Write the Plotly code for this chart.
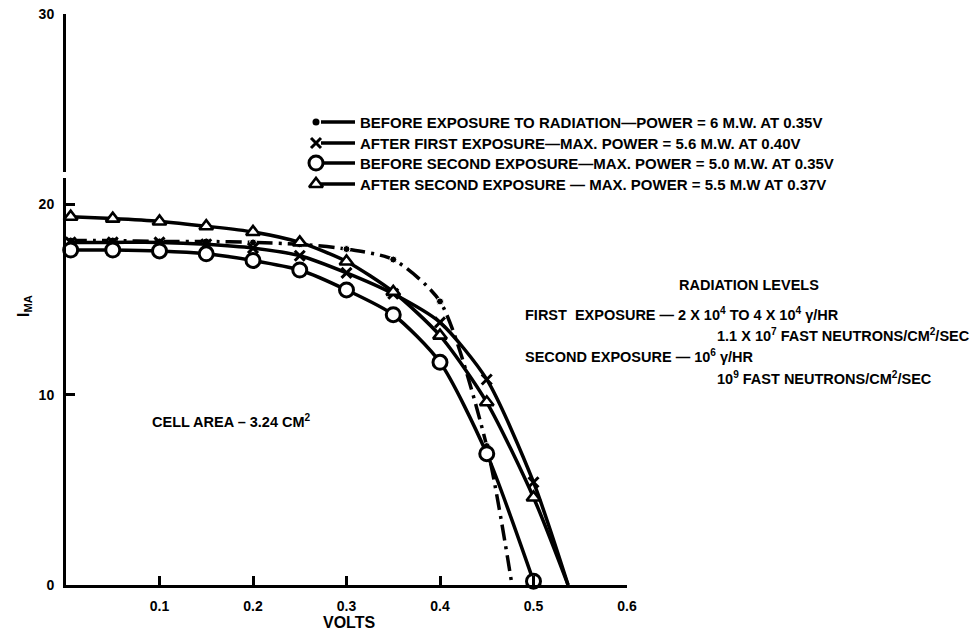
import plotly.graph_objects as go

W, H = 972, 636

# ---- I-V characteristics of the solar cell (volts, milliamps) ----
before_v = [0.005, 0.05, 0.10, 0.15, 0.20, 0.25, 0.30, 0.35, 0.40, 0.45, 0.477]
before_i = [18.1, 18.1, 18.05, 18.05, 18.0, 17.9, 17.65, 17.1, 14.9, 7.3, 0.0]

first_v = [0.005, 0.05, 0.10, 0.15, 0.20, 0.25, 0.30, 0.35, 0.40, 0.45, 0.50, 0.537]
first_i = [18.0, 18.0, 18.0, 17.9, 17.7, 17.3, 16.4, 15.3, 13.8, 10.8, 5.4, 0.0]

pre2_v = [0.005, 0.05, 0.10, 0.15, 0.20, 0.25, 0.30, 0.35, 0.40, 0.45, 0.50]
pre2_i = [17.6, 17.6, 17.55, 17.4, 17.05, 16.55, 15.5, 14.2, 11.7, 6.9, 0.2]

post2_v = [0.005, 0.05, 0.10, 0.15, 0.20, 0.25, 0.30, 0.35, 0.40, 0.45, 0.50, 0.537]
post2_i = [19.35, 19.25, 19.1, 18.85, 18.55, 18.0, 17.0, 15.4, 13.1, 9.6, 4.6, 0.0]

x_ticks = [0.1, 0.2, 0.3, 0.4, 0.5, 0.6]
x_tick_text = ["0.1", "0.2", "0.3", "0.4", "0.5", "0.6"]
y_ticks = [0, 10, 20, 30]
y_tick_text = ["0", "10", "20", "30"]

legend_text = [
    "BEFORE EXPOSURE TO RADIATION\u2014POWER = 6 M.W. AT 0.35V",
    "AFTER FIRST EXPOSURE\u2014MAX. POWER = 5.6 M.W. AT 0.40V",
    "BEFORE SECOND EXPOSURE\u2014MAX. POWER = 5.0 M.W. AT 0.35V",
    "AFTER SECOND EXPOSURE \u2014 MAX. POWER = 5.5 M.W AT 0.37V",
]

FONT = "Liberation Sans"
INK = "black"
LW = 3.5


def sizes(n, s, last_blank):
    out = [s] * n
    if last_blank:
        out[-1] = 0
    return out


dot_marker = dict(symbol="circle", color=INK, size=7, opacity=1)
x_marker = dict(symbol="x-thin-open", color=INK, size=10, opacity=1,
                line=dict(width=3, color=INK))
o_marker = dict(symbol="circle", color="white", size=14, opacity=1,
                line=dict(width=3, color=INK))
tri_marker = dict(symbol="triangle-up", color="white", size=12, opacity=1,
                  line=dict(width=2.6, color=INK))

series = [
    (before_v, before_i, dot_marker, "16px,6px,3px,6px", True),
    (first_v, first_i, x_marker, "solid", True),
    (pre2_v, pre2_i, o_marker, "solid", False),
    (post2_v, post2_i, tri_marker, "solid", True),
]

fig = go.Figure()
for vx, iy, mk, dash, blank_end in series:
    m = dict(mk)
    m["size"] = sizes(len(vx), mk["size"], blank_end)
    fig.add_trace(go.Scatter(
        x=vx, y=iy, mode="lines+markers", opacity=1,
        line=dict(color=INK, width=LW, dash=dash, shape="spline", smoothing=0.7),
        marker=m, cliponaxis=False, showlegend=False, hoverinfo="skip",
        xaxis="x", yaxis="y",
    ))

# ---- key: glyph + short stroke drawn in page pixels on an overlay axis ----
key_rows_y = [122, 143, 163, 184]
key_markers = [dot_marker, x_marker, o_marker, tri_marker]
for ky, mk in zip(key_rows_y, key_markers):
    fig.add_trace(go.Scatter(
        x=[321, 355], y=[ky, ky], mode="lines",
        line=dict(color=INK, width=LW), showlegend=False, hoverinfo="skip",
        xaxis="x2", yaxis="y2",
    ))
    fig.add_trace(go.Scatter(
        x=[316], y=[ky], mode="markers", marker=mk, showlegend=False,
        hoverinfo="skip", xaxis="x2", yaxis="y2", cliponaxis=False,
    ))

annotations = []


def label(text, x, y, size=14.5, xanchor="left", textangle=0):
    annotations.append(dict(
        text=f"<b>{text}</b>", x=x, y=y, xref="x2", yref="y2",
        xanchor=xanchor, yanchor="middle", showarrow=False,
        textangle=textangle, font=dict(family=FONT, size=size, color=INK),
    ))


for ky, txt in zip(key_rows_y, legend_text):
    label(txt, 358, ky, size=15)

label("RADIATION LEVELS", 749, 285, xanchor="center")
label("FIRST  EXPOSURE \u2014 2 X 10<sup>4</sup> TO 4 X 10<sup>4</sup> \u03b3/HR", 523, 314)
label("1.1 X 10<sup>7</sup> FAST NEUTRONS/CM<sup>2</sup>/SEC", 715, 335)
label("SECOND EXPOSURE \u2014 10<sup>6</sup> \u03b3/HR", 523, 356)
label("10<sup>9</sup> FAST NEUTRONS/CM<sup>2</sup>/SEC", 715, 378)
label("CELL AREA \u2013 3.24 CM<sup>2</sup>", 150, 421)
label("VOLTS", 349, 622, size=16, xanchor="center")
label("I<sub>MA</sub>", 24, 306, size=16, xanchor="center", textangle=-90)

axis_style = dict(
    showline=True, linewidth=3, linecolor=INK, mirror=False,
    ticks="inside", ticklen=9, tickwidth=2.5, tickcolor=INK,
    showgrid=False, zeroline=False, automargin=False,
    tickfont=dict(family=FONT, size=14, color=INK),
)

fig.update_layout(
    width=W, height=H,
    margin=dict(l=0, r=0, t=0, b=0),
    paper_bgcolor="white", plot_bgcolor="rgba(0,0,0,0)",
    showlegend=False,
    xaxis=dict(domain=[66 / W, 627 / W], range=[0, 0.6], anchor="y",
               tickvals=x_ticks, ticktext=[f"<b>{t}</b>" for t in x_tick_text],
               ticklabelstandoff=6, **axis_style),
    yaxis=dict(domain=[(H - 585) / H, (H - 14) / H], range=[0, 30], anchor="x",
               tickvals=y_ticks, ticktext=[f"<b>{t}</b>" for t in y_tick_text],
               ticklabelstandoff=6, **axis_style),
    xaxis2=dict(domain=[0, 1], range=[0, W], anchor="y2", visible=False, fixedrange=True),
    yaxis2=dict(domain=[0, 1], range=[H, 0], anchor="x2", visible=False, fixedrange=True),
    annotations=annotations,
    shapes=[dict(type="rect", xref="x2", yref="y2", x0=58, x1=72, y0=172, y1=178,
                 fillcolor="white", line=dict(width=0), layer="above")],
)

fig.write_html("out.html")
